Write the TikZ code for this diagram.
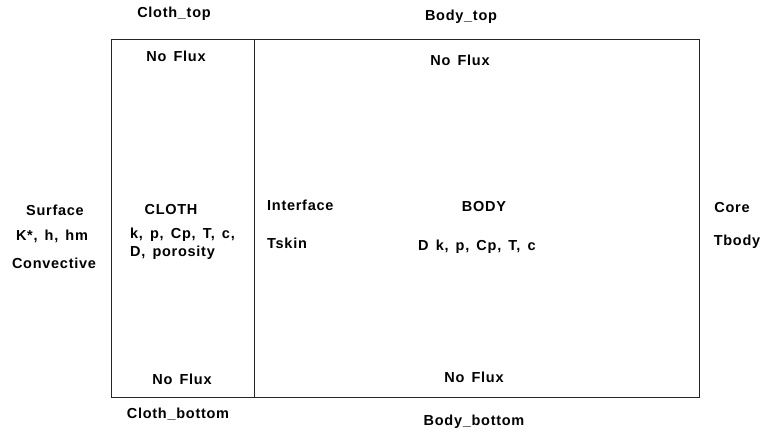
\documentclass[tikz,border=0pt]{standalone}
\usepackage{fontspec}
\setmainfont{Liberation Sans}[LetterSpace=5,WordSpace=1.5]
\begin{document}
\begin{tikzpicture}[x=1pt,y=-1pt,
  lbl/.style={font=\bfseries\fontsize{14.5}{17}\selectfont, inner sep=0pt, anchor=center},
  lbll/.style={lbl, anchor=west},
  frame/.style={draw=black!85, line width=1pt}]
\useasboundingbox (0,0) rectangle (760,434);
% frame
\coordinate (tl) at (111,39);
\coordinate (br) at (699,397);
\coordinate (dtop) at (254,39);
\coordinate (dbot) at (254,397);
\draw[frame] (tl) rectangle (br);
\draw[frame] (dtop) -- (dbot);
% top / bottom labels
\node[lbl] (clothtop) at (174,14) {Cloth\_top};
\node[lbl] (bodytop) at (461,17) {Body\_top};
\node[lbl] (nf1) at (176,56) {No Flux};
\node[lbl] (nf2) at (460,60) {No Flux};
\node[lbl] (nf3) at (182,379) {No Flux};
\node[lbl] (nf4) at (474,377) {No Flux};
\node[lbl] (clothbot) at (178,414) {Cloth\_bottom};
\node[lbl] (bodybot) at (474,422) {Body\_bottom};
% left
\node[lbl] (surface) at (55,210) {Surface};
\node[lbl] (kh) at (52,236) {K*, h, hm};
\node[lbl] (conv) at (54,263) {Convective};
% cloth
\node[lbl] (cloth) at (171,210) {CLOTH};
\node[lbll] (cprop1) at (130,235) {k, p, Cp, T, c,};
\node[lbll] (cprop2) at (130,253) {D, porosity};
% interface
\node[lbll] (iface) at (267,205) {Interface};
\node[lbll] (tskin) at (267,243) {Tskin};
% body
\node[lbl] (body) at (484,207) {BODY};
\node[lbll] (bprop) at (418,247) {D k, p, Cp, T, c};
% right
\node[lbl] (core) at (732,208) {Core};
\node[lbl] (tbody) at (737,242) {Tbody};
\end{tikzpicture}
\end{document}
